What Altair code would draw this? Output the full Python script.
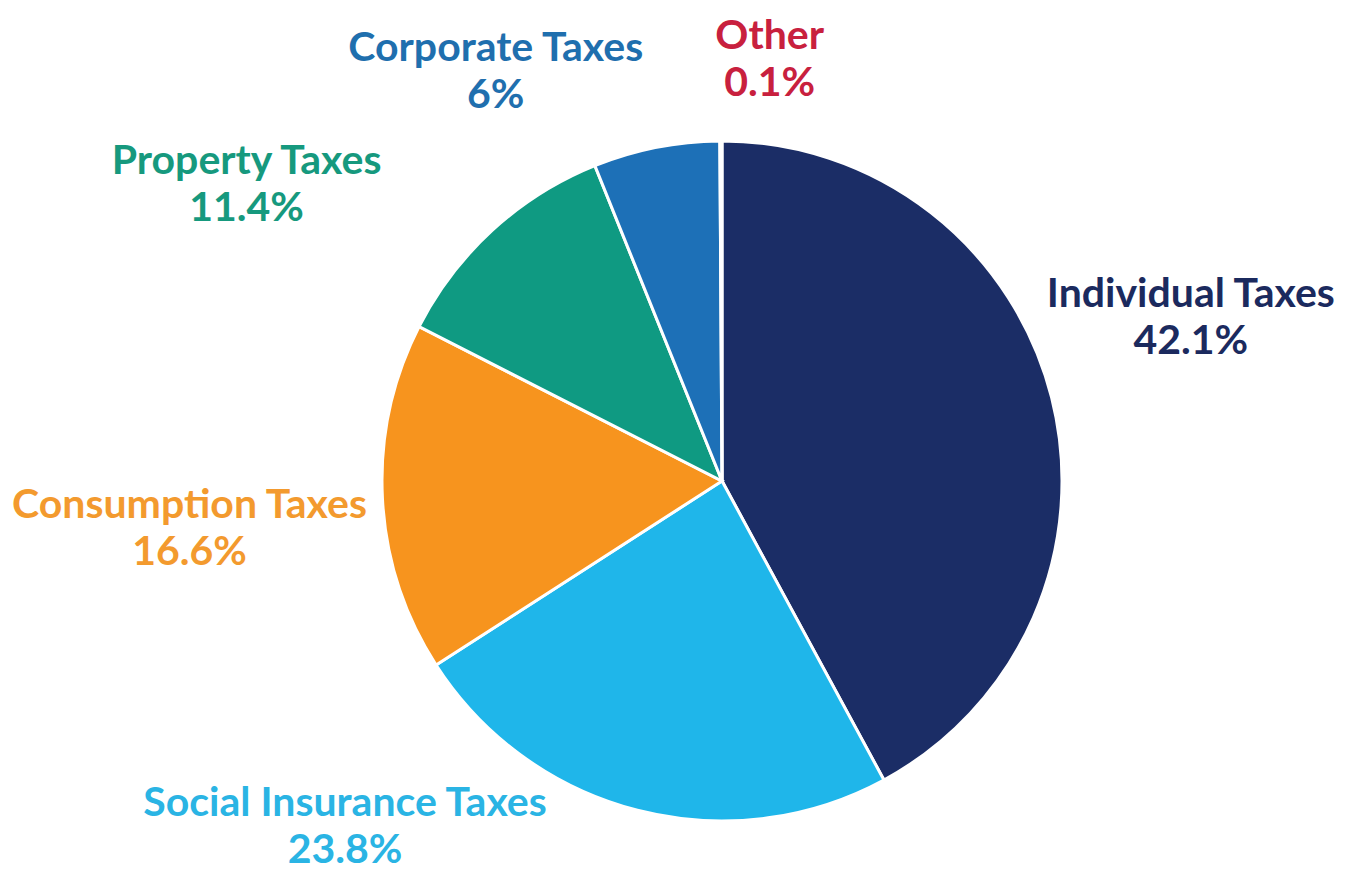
import altair as alt
import pandas as pd

categories = ["Individual Taxes", "Social Insurance Taxes", "Consumption Taxes",
              "Property Taxes", "Corporate Taxes", "Other"]
values = [42.1, 23.8, 16.6, 11.4, 6.0, 0.1]
pct_labels = ["42.1%", "23.8%", "16.6%", "11.4%", "6%", "0.1%"]
colors = ["#1b2d66", "#1fb6ea", "#f7941e", "#0f9a82", "#1d70b7", "#d4213d"]
text_colors = ["#1b2a5e", "#2ab4e4", "#f39a2e", "#16997e", "#1f6fae", "#c8203e"]

df = pd.DataFrame({
    "category": categories,
    "value": values,
    "pct": pct_labels,
    "order": list(range(len(categories))),
})
df["label"] = df["category"] + "\n" + df["pct"]

W, H = 1329, 863
CX, CY = 714, 473
R = 340
LR = 430

theta_scale = alt.Scale(domain=[0, 100])
color_scale = alt.Scale(domain=categories, range=colors)

base = alt.Chart(df)

pie = base.mark_arc(outerRadius=R, stroke="white", strokeWidth=3).encode(
    theta=alt.Theta("value:Q", stack=True, scale=theta_scale),
    color=alt.Color("category:N", scale=color_scale, legend=None),
    order=alt.Order("order:Q"),
    x=alt.value(CX),
    y=alt.value(CY),
)

offsets = {
    "Individual Taxes": (52, -80),
    "Social Insurance Taxes": (-270, -93),
    "Consumption Taxes": (-103, 3),
    "Property Taxes": (-185, -2),
    "Corporate Taxes": (-143, -10),
    "Other": (49, -14),
}

layers = [pie]
for cat, tc in zip(categories, text_colors):
    dx, dy = offsets[cat]
    t = base.transform_window(
        cum="sum(value)", sort=[alt.SortField("order")]
    ).transform_calculate(
        mid="datum.cum - datum.value / 2"
    ).transform_filter(
        alt.datum.category == cat
    ).mark_text(
        radius=LR, font="Lato", fontWeight="bold", fontSize=41,
        lineBreak="\n", lineHeight=47, align="center", baseline="middle",
        color=tc, dx=dx, dy=dy,
    ).encode(
        theta=alt.Theta("mid:Q", stack=None, scale=theta_scale),
        text="label:N",
        x=alt.value(CX),
        y=alt.value(CY),
    )
    layers.append(t)

chart = alt.layer(*layers).properties(
    width=W, height=H,
    autosize=alt.AutoSizeParams(type="fit", contains="padding"),
    padding=0,
).configure_view(stroke=None)

chart.save("out.html", embed_options={"renderer": "svg", "actions": False})
